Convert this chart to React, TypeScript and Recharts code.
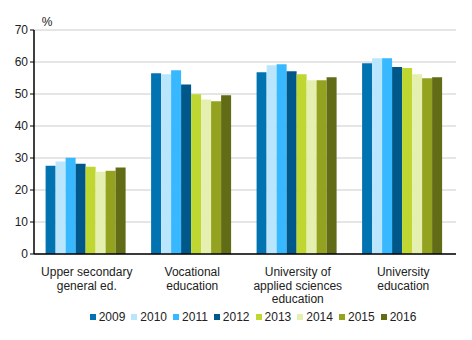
import { Bar, BarChart, CartesianGrid, Legend, XAxis, YAxis } from "recharts";

const categories = [
  "Upper secondary\ngeneral ed.",
  "Vocational\neducation",
  "University of\napplied sciences\neducation",
  "University\neducation",
];

const years = ["2009", "2010", "2011", "2012", "2013", "2014", "2015", "2016"];

const colors = ["#0073b0", "#b9e6fd", "#38b9ff", "#00578a", "#bfd730", "#e5efb0", "#93a31f", "#626c16"];

// values per category, one column per year
const upperSecondary = [27.6, 28.9, 30.1, 28.2, 27.3, 25.7, 26.0, 27.0];
const vocational = [56.5, 56.2, 57.4, 53.0, 49.9, 48.3, 47.7, 49.6];
const appliedSciences = [56.8, 59.0, 59.3, 57.1, 56.2, 54.3, 54.3, 55.2];
const university = [59.6, 61.2, 61.2, 58.4, 58.1, 56.2, 54.9, 55.2];

const yTicks = [0, 10, 20, 30, 40, 50, 60, 70];

const rows = [upperSecondary, vocational, appliedSciences, university];

const data = categories.map((name, i) => {
  const row: { [key: string]: string | number } = { name };
  years.forEach((y, j) => {
    row[y] = rows[i][j];
  });
  return row;
});

const FONT = "'Liberation Sans', Arial, sans-serif";

function CategoryTick({ x, y, payload }: any) {
  const lines = String(payload.value).split("\n");
  return (
    <text x={x} y={y} textAnchor="middle" fill="#222" fontSize={12} fontFamily={FONT}>
      {lines.map((line, i) => (
        <tspan key={i} x={x} dy={i === 0 ? 14 : 13.5}>
          {line}
        </tspan>
      ))}
    </text>
  );
}

function YearLegend() {
  return (
    <div
      style={{
        display: "flex",
        justifyContent: "center",
        paddingLeft: 56,
        fontFamily: FONT,
        fontSize: 12,
        color: "#222",
      }}
    >
      {years.map((y, i) => (
        <div key={y} style={{ display: "flex", alignItems: "center", marginRight: 6 }}>
          <span style={{ width: 6, height: 6, background: colors[i], marginRight: 3, display: "inline-block" }} />
          <span>{y}</span>
        </div>
      ))}
    </div>
  );
}

export default function App() {
  return (
    <div style={{ position: "absolute", left: 0, top: 0, width: 472, height: 340, background: "#fff" }}>
      <BarChart
        width={472}
        height={340}
        data={data}
        margin={{ top: 30, right: 16, left: 0, bottom: 8 }}
        barCategoryGap="11%"
        barGap={0}
      >
        <CartesianGrid vertical={false} stroke="#cccccc" />
        <XAxis
          dataKey="name"
          tick={<CategoryTick />}
          tickLine={false}
          axisLine={{ stroke: "#000", strokeWidth: 1.5 }}
          interval={0}
          height={56}
        />
        <YAxis
          domain={[0, 70]}
          ticks={yTicks}
          width={34}
          tick={{ fill: "#222", fontSize: 12, fontFamily: FONT }}
          tickLine={{ stroke: "#000" }}
          tickSize={4}
          axisLine={{ stroke: "#000", strokeWidth: 1.5 }}
          label={{ value: "%", position: "top", offset: 0, dx: 30, dy: -4, fill: "#222", fontSize: 12, fontFamily: FONT }}
        />
        <Legend verticalAlign="bottom" height={22} content={<YearLegend />} />
        {years.map((y, i) => (
          <Bar key={y} dataKey={y} fill={colors[i]} isAnimationActive={false} />
        ))}
      </BarChart>
    </div>
  );
}
